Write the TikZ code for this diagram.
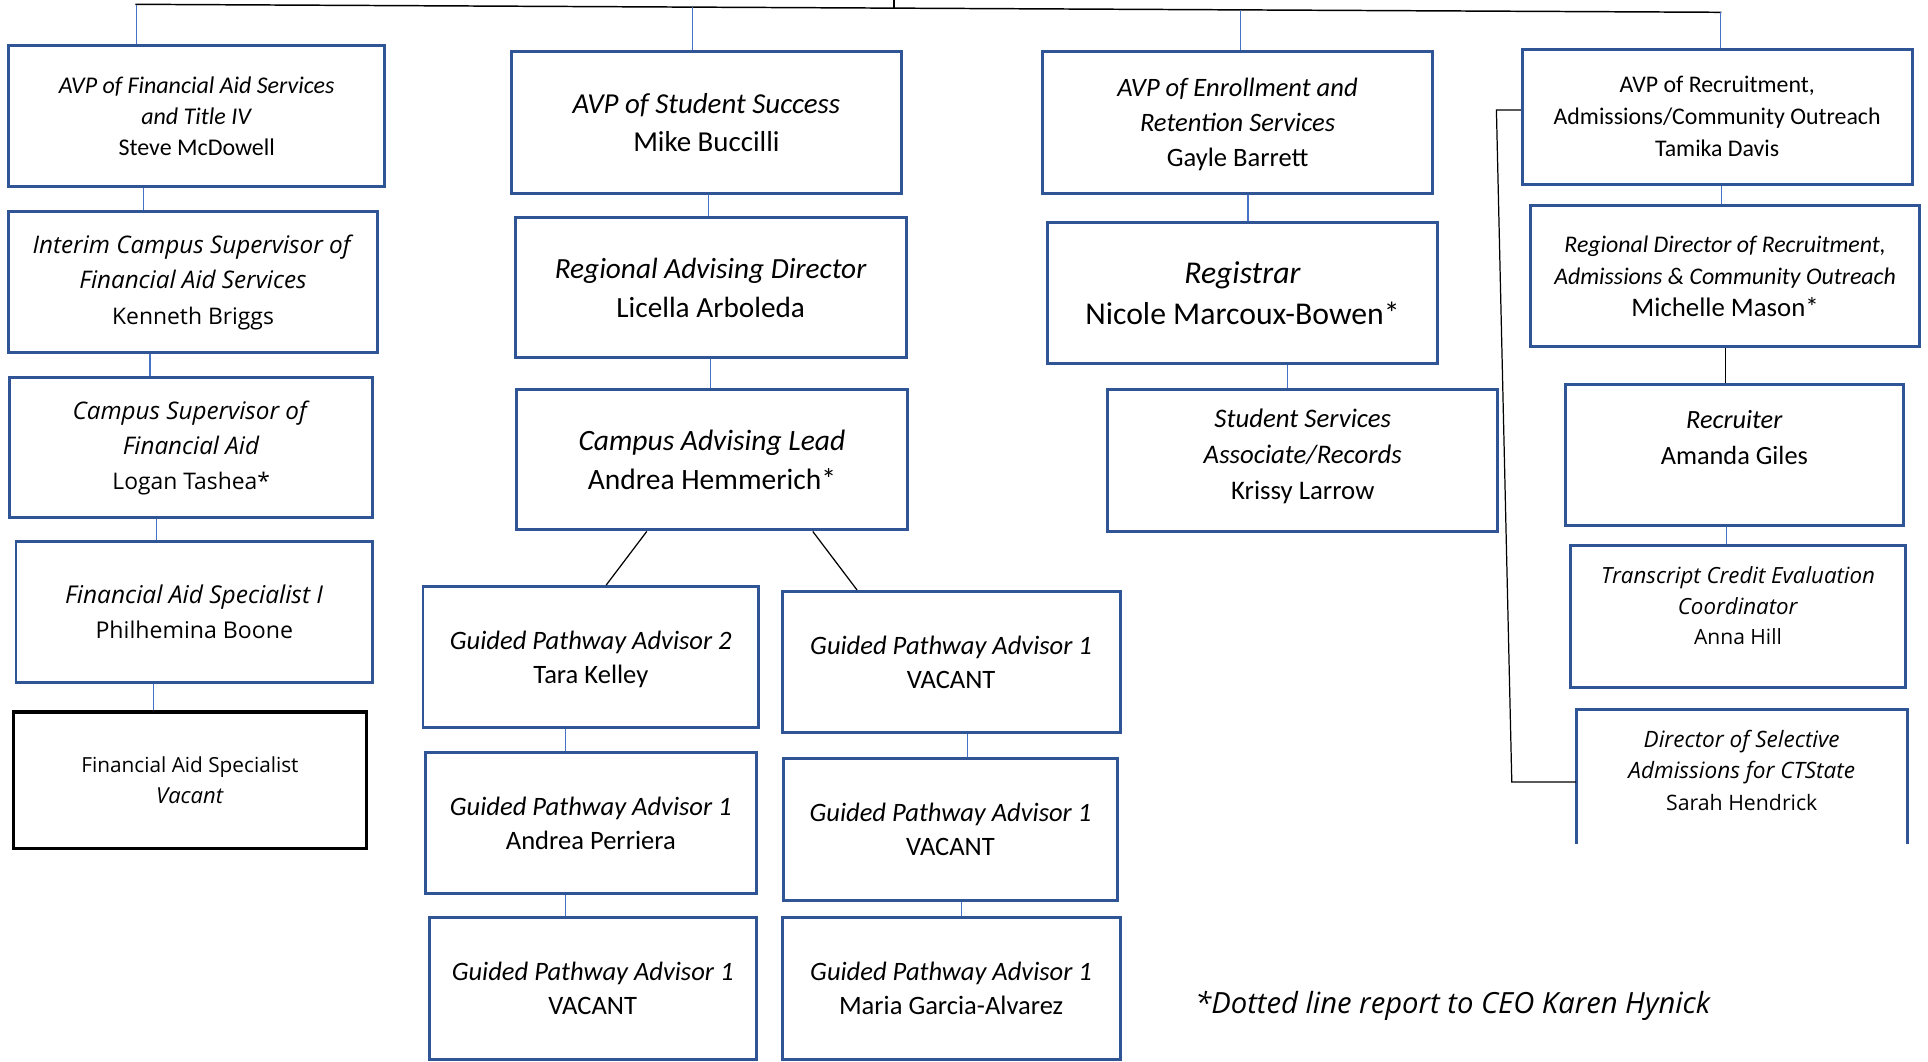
\documentclass[tikz,border=0pt]{standalone}
\usepackage{fontspec}
\setmainfont{Carlito}
\newfontfamily\opensans{Open Sans}[ItalicFeatures={Scale=1.06}]
\usetikzlibrary{calc}
\definecolor{boxblue}{RGB}{47,85,151}
\definecolor{linkblue}{RGB}{68,114,196}
\newcommand{\fsz}[2]{\fontsize{#1}{#2}\selectfont}

\begin{document}
\begin{tikzpicture}[x=0.5pt,y=0.5pt,yscale=-1,xscale=1,
  box/.style={draw=boxblue,line width=1.2pt,align=center,inner sep=0pt},
  link/.style={draw=linkblue,line width=0.5pt},
  bline/.style={draw=black,line width=0.5pt}]
\useasboundingbox (0,0) rectangle (1568,863);

%Top line to the four AVPs
\coordinate (t1) at (110,3.5);
\coordinate (t4) at (1400,10);
\coordinate (ceo) at (727,0);
\draw[bline,line width=0.6pt] (t1) -- (t4);
\draw[bline] (ceo) -- (727,6.6);

%Column 1: Financial Aid
\node[box,minimum width=153pt,minimum height=57.5pt,font=\fsz{9.75}{12.75}] (fa1) at (160,94.5)
  {\textit{AVP of Financial Aid Services}\\ \textit{and Title IV}\\ Steve McDowell};
\node[box,minimum width=150pt,minimum height=57.5pt,font={\opensans\fsz{9.3}{14.5}}] (fa2) at (157,229.5)
  {\textit{Interim Campus Supervisor of}\\ \textit{Financial Aid Services}\\ Kenneth Briggs};
\node[box,minimum width=147.5pt,minimum height=57pt,font={\opensans\fsz{9.3}{14.25}}] (fa3) at (155.5,364)
  {\textit{Campus Supervisor of}\\ \textit{Financial Aid}\\ Logan Tashea*};
\node[box,minimum width=145pt,minimum height=57.5pt,font={\opensans\fsz{9.4}{14}}] (fa4) at (158,497.5)
  {\textit{Financial Aid Specialist I}\\ Philhemina Boone};
\node[box,draw=black,line width=1.3pt,minimum width=143.5pt,minimum height=55.5pt,font={\opensans\fsz{8.45}{12.5}}] (fa5) at (154.5,634.5)
  {Financial Aid Specialist\\ \textit{Vacant}};

%Column 2: Student Success
\node[box,minimum width=158.5pt,minimum height=57.5pt,font=\fsz{11.75}{15.5}] (ss1) at (574.5,99.5)
  {\textit{AVP of Student Success}\\ Mike Buccilli};
\node[box,minimum width=159pt,minimum height=57pt,font=\fsz{11.9}{16}] (ss2) at (578,234)
  {\textit{Regional Advising Director}\\ Licella Arboleda};
\node[box,minimum width=159pt,minimum height=57pt,font=\fsz{12}{15.5}] (ss3) at (579,374)
  {\textit{Campus Advising Lead}\\ Andrea Hemmerich*};
\node[box,minimum width=136.5pt,minimum height=57.5pt,text depth=0pt,font=\fsz{10.8}{14}] (gpa) at (480.5,534.5)
  {\textit{Guided Pathway Advisor 2}\\ Tara Kelley};
\node[box,minimum width=134.5pt,minimum height=57.5pt,font=\fsz{10.8}{14}] (gpb) at (480.5,669.5)
  {\textit{Guided Pathway Advisor 1}\\ Andrea Perriera};
\node[box,minimum width=133pt,minimum height=57.75pt,font=\fsz{10.8}{14}] (gpc) at (482,803.75)
  {\textit{Guided Pathway Advisor 1}\\ VACANT};
\node[box,minimum width=137.5pt,minimum height=57.5pt,font=\fsz{10.8}{14}] (gpd) at (773.5,538.5)
  {\textit{Guided Pathway Advisor 1}\\ VACANT};
\node[box,minimum width=136pt,minimum height=57.5pt,font=\fsz{10.8}{14}] (gpe) at (773,674.5)
  {\textit{Guided Pathway Advisor 1}\\ VACANT};
\node[box,minimum width=137.5pt,minimum height=57.75pt,font=\fsz{10.8}{14}] (gpf) at (773.5,803.75)
  {\textit{Guided Pathway Advisor 1}\\ Maria Garcia-Alvarez};

%Column 3: Enrollment and Retention
\node[box,minimum width=158.5pt,minimum height=57.5pt,text depth=0pt,font=\fsz{10.8}{14.25}] (er1) at (1006.5,99.5)
  {\textit{AVP of Enrollment and}\\ \textit{Retention Services}\\ Gayle Barrett};
\node[box,minimum width=158.5pt,minimum height=57.5pt,font=\fsz{12.9}{17}] (er2) at (1010.5,238.5)
  {\textit{Registrar}\\ Nicole Marcoux-Bowen*};
\node[box,minimum width=158.5pt,minimum height=57.5pt,text depth=5pt,font=\fsz{10.9}{14.5}] (er3) at (1059.5,374.5)
  {\textit{Student Services}\\ \textit{Associate/Records}\\ Krissy Larrow};

%Column 4: Recruitment and Admissions
\node[box,minimum width=158.5pt,minimum height=55pt,font=\fsz{9.7}{13}] (ra1) at (1396.5,95)
  {AVP of Recruitment,\\ Admissions/Community Outreach\\ Tamika Davis};
\node[box,minimum width=158pt,minimum height=57.5pt,font=\fsz{9.7}{13}] (ra2) at (1403,224.5)
  {\textit{Regional Director of Recruitment,}\\ \textit{Admissions \& Community Outreach}\\ {\fsz{10.9}{13}Michelle Mason*}};
\node[box,minimum width=137.5pt,minimum height=57pt,text depth=14.5pt,font=\fsz{10.7}{14.5}] (ra3) at (1410.5,370)
  {\textit{Recruiter}\\ Amanda Giles};
\node[box,minimum width=136.5pt,minimum height=57.5pt,text depth=9pt,font={\opensans\fsz{8.55}{12.5}}] (ra4) at (1413.5,501.5)
  {\textit{Transcript Credit Evaluation}\\ \textit{Coordinator}\\ Anna Hill};
\node[box,draw=none,minimum width=133.5pt,minimum height=53.5pt,text depth=5pt,font={\opensans\fsz{8.65}{13}}] (ra5) at (1416.5,631.5)
  {\textit{Director of Selective}\\ \textit{Admissions for CTState}\\ Sarah Hendrick};
\draw[boxblue,line width=1.2pt] (ra5.south west) -- (ra5.north west) -- (ra5.north east) -- (ra5.south east);

% Text Node
\node[font={\opensans\itshape\fsz{11.2}{14}}] (note) at (1181.5,818) {*Dotted line report to CEO Karen Hynick};

%Drops from the top line
\draw[link] (111,4) -- (fa1.north -| 111,0);
\draw[link] (563,5.8) -- (ss1.north -| 563,0);
\draw[link] (1009,8) -- (er1.north -| 1009,0);
\draw[link] (1399,10) -- (ra1.north -| 1399,0);

%Straight Lines
\draw[link] (fa1.south -| 117,0) -- (fa2.north -| 117,0);
\draw[link] (fa2.south -| 122,0) -- (fa3.north -| 122,0);
\draw[link] (fa3.south -| 127,0) -- (fa4.north -| 127,0);
\draw[link] (fa4.south -| 125,0) -- (fa5.north -| 125,0);
\draw[link] (ss1.south -| 576,0) -- (ss2.north -| 576,0);
\draw[link] (ss2.south -| 578,0) -- (ss3.north -| 578,0);
\draw[bline] (ss3.south -| 526,0) -- (gpa.north -| 493,0);
\draw[bline] (ss3.south -| 661,0) -- (gpd.north -| 697,0);
\draw[link] (gpa.south -| 460,0) -- (gpb.north -| 460,0);
\draw[link] (gpb.south -| 460,0) -- (gpc.north -| 460,0);
\draw[link] (gpd.south -| 787,0) -- (gpe.north -| 787,0);
\draw[link] (gpe.south -| 782,0) -- (gpf.north -| 782,0);
\draw[link] (er1.south -| 1015,0) -- (er2.north -| 1015,0);
\draw[link] (er2.south -| 1047,0) -- (er3.north -| 1047,0);
\draw[link] (ra1.south -| 1400,0) -- (ra2.north -| 1400,0);
\draw[bline] (ra2.south -| 1403,0) -- (ra3.north -| 1403,0);
\draw[link] (ra3.south -| 1404,0) -- (ra4.north -| 1404,0);

%Elbow to Director of Selective Admissions
\draw[bline] (ra1.west |- 0,89.5) -- (1217,89.5) -- (1229.5,636) -- (ra5.west |- 0,636);
\end{tikzpicture}
\end{document}
